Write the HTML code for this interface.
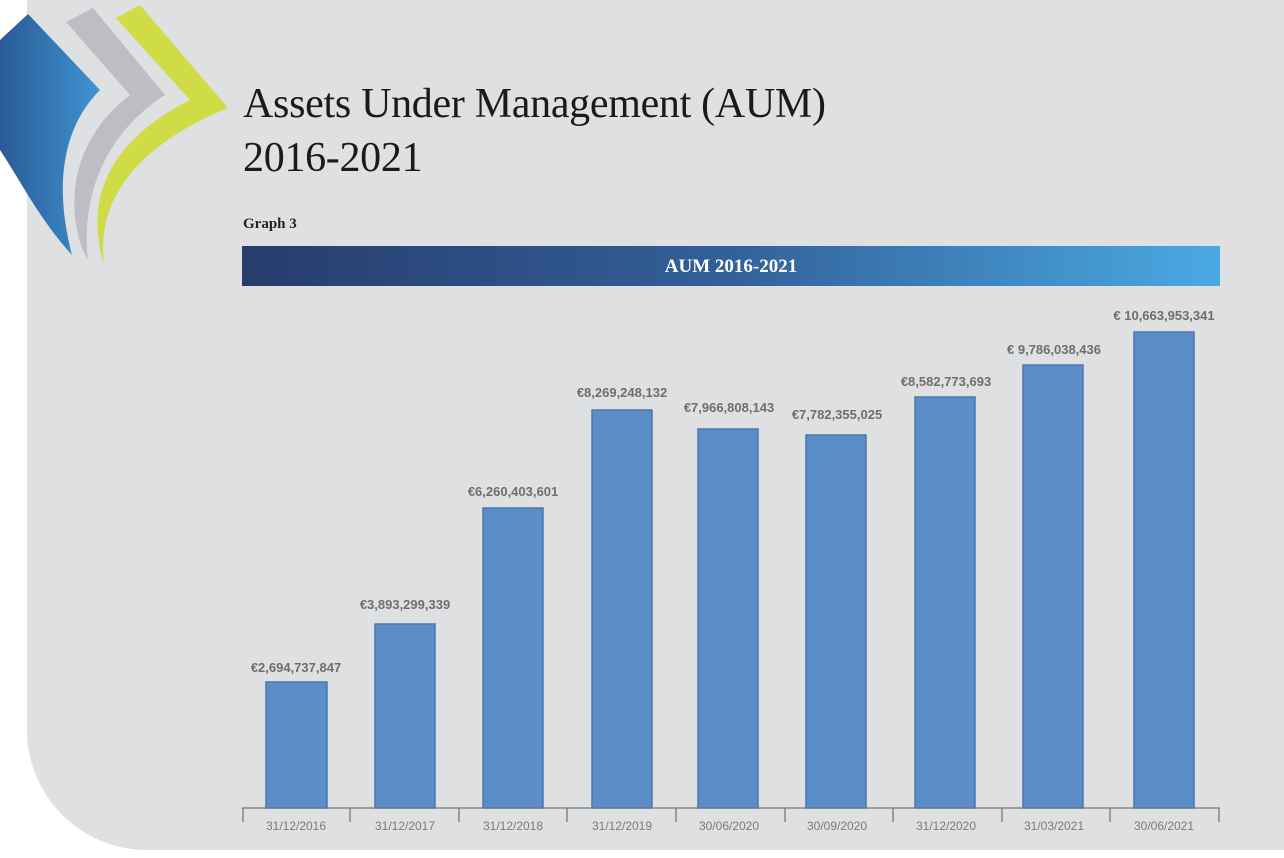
<!DOCTYPE html>
<html><head><meta charset="utf-8"><style>
html,body{margin:0;padding:0;background:#fff;}
body{width:1284px;height:858px;position:relative;overflow:hidden;font-family:"Liberation Sans",sans-serif;}
.panel{position:absolute;left:27px;top:0;width:1257px;height:850px;background:#dfe0e2;border-bottom-left-radius:120px;}
.t{position:absolute;left:243px;font-family:"Liberation Serif",serif;font-size:42px;color:#1a1a1a;letter-spacing:-0.3px;}
.g3{position:absolute;left:243px;top:216px;font-family:"Liberation Serif",serif;font-weight:bold;font-size:15px;color:#222;}
.hdr{position:absolute;left:242px;top:246px;width:978px;height:40px;background:linear-gradient(90deg,#263c6c,#33609a 50%,#4aa9e2);color:#fff;font-family:"Liberation Serif",serif;font-weight:bold;font-size:19px;text-align:center;line-height:42px;}
</style></head><body>
<div class="panel"></div>
<svg style="position:absolute;left:0;top:0" width="240" height="280">
<defs><linearGradient id="b" x1="0" x2="1"><stop offset="0" stop-color="#2a5a96"/><stop offset="1" stop-color="#3d95d2"/></linearGradient></defs>
<path d="M28,14 L100,90 C60,130 55,190 72,255 C40,220 20,180 0,150 L0,40 Z" fill="url(#b)"/>
<path d="M66,22 L93,8 L165,95 C110,130 80,190 88,260 C70,230 58,150 130,95 Z" fill="#bdbec3"/>
<path d="M116,18 L140,5 L228,108 C150,140 95,190 104,264 C90,220 90,150 190,100 Z" fill="#cfdc45"/>
</svg>
<div class="t" style="top:80px">Assets Under Management (AUM)</div>
<div class="t" style="top:134px">2016-2021</div>
<div class="g3">Graph 3</div>
<div class="hdr">AUM 2016-2021</div>
<svg style="position:absolute;left:0;top:0" width="1284" height="858" font-family="Liberation Sans, sans-serif">
<g fill="#5b8ec9" stroke="#4a77ad" stroke-width="1.5">
<rect x="266" y="682" width="61" height="126"/>
<rect x="375" y="624" width="60" height="184"/>
<rect x="483" y="508" width="60" height="300"/>
<rect x="592" y="410" width="60" height="398"/>
<rect x="698" y="429" width="60" height="379"/>
<rect x="806" y="435" width="60" height="373"/>
<rect x="915" y="397" width="60" height="411"/>
<rect x="1023" y="365" width="60" height="443"/>
<rect x="1134" y="332" width="60" height="476"/>
</g>
<g stroke="#777" stroke-width="1.3">
<line x1="242" y1="808" x2="1220" y2="808"/>
<line x1="243" y1="808" x2="243" y2="822"/><line x1="350" y1="808" x2="350" y2="822"/><line x1="459" y1="808" x2="459" y2="822"/><line x1="567" y1="808" x2="567" y2="822"/><line x1="676" y1="808" x2="676" y2="822"/><line x1="785" y1="808" x2="785" y2="822"/><line x1="893" y1="808" x2="893" y2="822"/><line x1="1002" y1="808" x2="1002" y2="822"/><line x1="1110" y1="808" x2="1110" y2="822"/><line x1="1219" y1="808" x2="1219" y2="822"/>
</g>
<g fill="#7a7a7a" font-size="12" text-anchor="middle">
<text x="296" y="830">31/12/2016</text><text x="405" y="830">31/12/2017</text><text x="513" y="830">31/12/2018</text><text x="622" y="830">31/12/2019</text><text x="729" y="830">30/06/2020</text><text x="837" y="830">30/09/2020</text><text x="946" y="830">31/12/2020</text><text x="1054" y="830">31/03/2021</text><text x="1164" y="830">30/06/2021</text>
</g>
<g fill="#6e6e6e" font-size="13" font-weight="bold" text-anchor="middle">
<text x="296" y="672">€2,694,737,847</text>
<text x="405" y="609">€3,893,299,339</text>
<text x="513" y="496">€6,260,403,601</text>
<text x="622" y="397">€8,269,248,132</text>
<text x="729" y="412">€7,966,808,143</text>
<text x="837" y="419">€7,782,355,025</text>
<text x="946" y="386">€8,582,773,693</text>
<text x="1054" y="354">€ 9,786,038,436</text>
<text x="1164" y="320">€ 10,663,953,341</text>
</g>
</svg>
</body></html>
